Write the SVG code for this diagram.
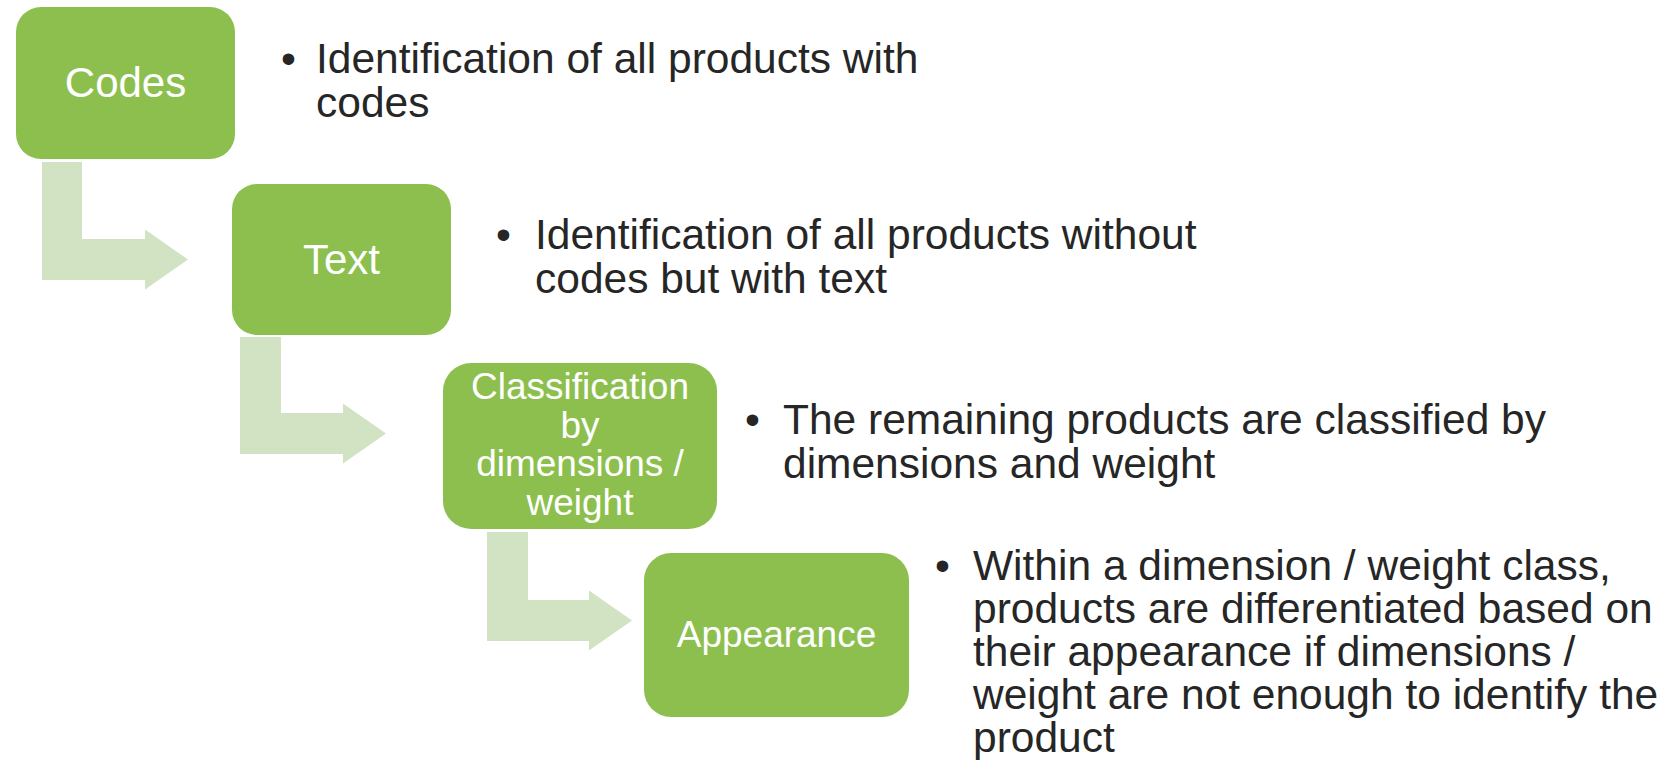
<svg xmlns="http://www.w3.org/2000/svg" width="1664" height="760" viewBox="0 0 1664 760">
<style>
.box{fill:#8DBF4F;}
.arr{fill:#D2E3C4;}
.lbl{font-family:"Liberation Sans",Arial,sans-serif;font-size:42px;fill:#ffffff;text-anchor:middle;}
.sm{font-size:37px;}
.desc{font-family:"Liberation Sans",Arial,sans-serif;font-size:42.5px;fill:#262626;}
</style>
<rect width="1664" height="760" fill="#ffffff"/>
<g id="connectors">
<path class="arr" d="M42,162 H82 V239 H145 V229.5 L188,259.5 L145,289.5 V280 H42 Z"/>
<path class="arr" d="M240,337 H281 V413 H343 V403.5 L386,433.5 L343,463.5 V454 H240 Z"/>
<path class="arr" d="M487,532 H528 V600 H589 V590.5 L632,620.5 L589,650.5 V641 H487 Z"/>
</g>
<g id="node-codes">
<rect class="box" x="16" y="7" width="219" height="152" rx="25" ry="25"/>
<text class="lbl" x="125.5" y="97">Codes</text>
</g>
<g id="desc-codes">
<text class="desc" x="281" y="73">•</text>
<text class="desc" x="316" y="73">Identification of all products with</text>
<text class="desc" x="316" y="117">codes</text>
</g>
<g id="node-text">
<rect class="box" x="232" y="184" width="219" height="151" rx="25" ry="25"/>
<text class="lbl" x="341.5" y="274">Text</text>
</g>
<g id="desc-text">
<text class="desc" x="496" y="249">•</text>
<text class="desc" x="535" y="249">Identification of all products without</text>
<text class="desc" x="535" y="293">codes but with text</text>
</g>
<g id="node-classification">
<rect class="box" x="443" y="363" width="274" height="166" rx="28" ry="28"/>
<text class="lbl sm" x="580" y="399">Classification</text>
<text class="lbl sm" x="580" y="438">by</text>
<text class="lbl sm" x="580" y="476">dimensions /</text>
<text class="lbl sm" x="580" y="515">weight</text>
</g>
<g id="desc-classification">
<text class="desc" x="745" y="434">•</text>
<text class="desc" x="783" y="434">The remaining products are classified by</text>
<text class="desc" x="783" y="478">dimensions and weight</text>
</g>
<g id="node-appearance">
<rect class="box" x="644" y="553" width="265" height="164" rx="27" ry="27"/>
<text class="lbl sm" x="776.5" y="647">Appearance</text>
</g>
<g id="desc-appearance">
<text class="desc" x="935" y="580">•</text>
<text class="desc" x="973" y="580">Within a dimension / weight class,</text>
<text class="desc" x="973" y="623">products are differentiated based on</text>
<text class="desc" x="973" y="666">their appearance if dimensions /</text>
<text class="desc" x="973" y="709">weight are not enough to identify the</text>
<text class="desc" x="973" y="752">product</text>
</g>
</svg>
